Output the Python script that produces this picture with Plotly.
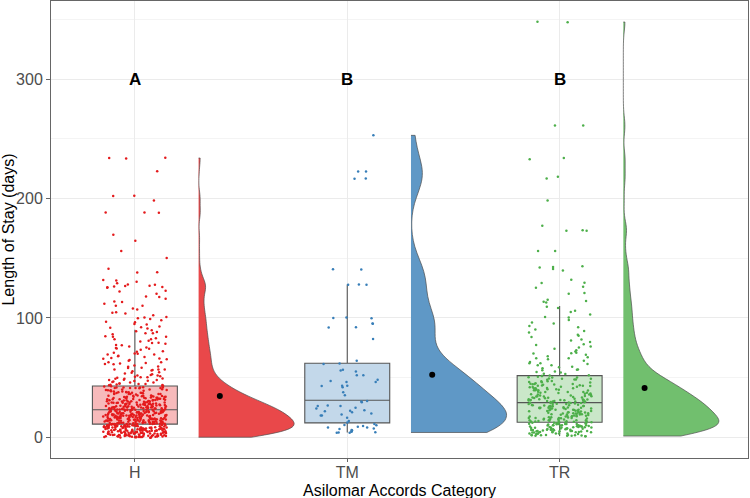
import numpy as np
import plotly.graph_objects as go

# ---------------- data (read / estimated from the reference) ----------------
categories = ["H", "TM", "TR"]
positions = [1, 2, 3]
letters = ["A", "B", "B"]
letter_level = 300

# H: number of stays per whole day, starting at day 0
H_day_counts = [12, 14, 14, 15, 15, 15, 15, 15, 15, 15, 15,          # 0-10
                14, 14, 14, 14, 14, 13, 13, 13, 13, 13, 12, 13,      # 11-22
                12, 12, 11, 11, 10, 10, 9, 9, 8, 8, 8, 7, 7, 6, 6, 6, 5, 5, 5, 5,  # 23-42
                4, 4, 4, 3, 3, 3, 3, 3,                              # 43-50
                2, 3, 2, 2, 1, 2, 3, 2, 2, 1, 2, 2, 2, 1, 2, 3, 1, 2, 2, 2,  # 51-70
                1, 2, 1, 2, 2, 1, 2, 1, 2, 1, 1, 2, 1, 2, 1, 1, 2, 1, 1, 1, 1]  # 71-91
H_long_stays = [234, 234, 234, 223, 202, 202, 198, 188, 188, 188, 170, 165, 156, 150,
                141, 138, 138, 132, 131, 130, 129, 128, 128, 127, 127, 126, 126, 126,
                125, 123, 122, 120, 118, 118, 116, 114, 113, 112, 110, 110, 108, 107,
                105, 104, 104, 102, 101, 100, 100, 99, 98, 97, 96, 95, 94, 93, 92, 92]

# TM: individual stays
TM_stays = [4, 4, 4, 4, 5, 5, 6, 6, 7, 7, 8, 8, 9, 9, 10, 10, 11, 12,
            14, 16, 18, 18, 19, 20, 21, 22, 22, 23, 24, 25, 26, 26, 27, 29, 30, 30,
            35, 38, 42, 43, 43, 43, 46, 46, 47, 48, 52, 52, 55, 56, 57, 61, 62,
            64, 82, 92, 92, 95, 95, 100, 100, 100, 128, 128, 128, 141, 141,
            217, 217, 223, 223, 253]

# TR: number of stays per whole day, starting at day 0
TR_day_counts = [0, 6, 7, 7, 8, 8, 8, 8, 8, 8, 8, 7, 7,                 # 0-12
                 7, 6, 6, 6, 6, 6, 6, 6, 6, 6, 6, 6, 6, 6, 5, 5,        # 13-28
                 6, 6, 6, 5, 5, 5, 4, 4, 4, 4, 4, 4, 4, 4, 4, 4, 4,     # 29-45
                 3, 3, 3, 3, 3, 3]                                      # 46-51
TR_long_stays = [52, 52, 53, 53, 54, 55, 55, 56, 57, 57, 58, 59, 59, 60, 60,
                 61, 62, 62, 63, 64, 65, 66, 66, 67, 68, 69, 70, 70, 71, 72, 73, 74, 75,
                 76, 77, 78, 80, 81, 82, 84, 85, 86, 88, 89, 90, 92, 93, 95, 96, 98,
                 100, 101, 103, 105, 106, 108, 109,
                 113, 114, 114, 115, 120, 121, 125, 126, 129, 129, 132, 140, 141, 142,
                 143, 143, 156, 156, 173, 173, 173, 177, 198, 217, 218, 233, 234,
                 261, 261, 348, 348]

# box-plot statistics
box_lower = [0, 4, 1]
box_q1 = [11, 12, 12.5]
box_median = [23, 31, 29]
box_q3 = [43, 62, 51.6]
box_upper = [90, 128, 110]
group_means = [34.5, 52.3, 41.2]

point_colors = ["#E41A1C", "#377EB8", "#4DAF4A"]
violin_colors = ["#E9484A", "#5F98C6", "#71BF6E"]
box_colors = ["#F7BABB", "#C3D8EA", "#CAE7C9"]


def expand(day_counts, extra):
    vals = []
    for d, c in enumerate(day_counts):
        vals.extend([d] * c)
    vals.extend(extra)
    return np.array(sorted(vals), dtype=float)


groups = [expand(H_day_counts, H_long_stays),
          np.array(sorted(TM_stays), dtype=float),
          expand(TR_day_counts, TR_long_stays)]


def nrd0(x):
    sd = np.std(x, ddof=1)
    iqr = np.subtract(*np.percentile(x, [75, 25]))
    return 0.9 * min(sd, iqr / 1.34) * len(x) ** (-0.2)


def scatter_offsets(n, salt):
    # deterministic hash-based offsets in [-0.5, 0.5) used only for jittering
    k = np.arange(n, dtype=float) + salt
    h = np.sin(k * 12.9898 + salt * 78.233) * 43758.5453
    return (h - np.floor(h)) - 0.5


fig = go.Figure()

VIOLIN_OFFSET = 0.3
MEAN_OFFSET = 0.4
JITTER = 0.15

for i, (cat, pos, vals) in enumerate(zip(categories, positions, groups)):
    # half violin
    fig.add_trace(go.Violin(
        y=vals, x0=pos + VIOLIN_OFFSET, side="positive", width=0.9,
        scalemode="width", spanmode="hard", bandwidth=nrd0(vals),
        fillcolor=violin_colors[i], opacity=1,
        line=dict(color="#4D4D4D", width=0.7),
        points=False, box_visible=False, meanline_visible=False,
        hoverinfo="skip", showlegend=False, name=cat))
    # box plot from statistics
    fig.add_trace(go.Box(
        x=[pos], q1=[box_q1[i]], median=[box_median[i]], q3=[box_q3[i]],
        lowerfence=[box_lower[i]], upperfence=[box_upper[i]],
        width=0.4, whiskerwidth=0, fillcolor=box_colors[i],
        line=dict(color="#555555", width=1.1), boxpoints=False,
        hoverinfo="skip", showlegend=False, name=cat))
    # jittered raw points
    n = len(vals)
    xj = pos + scatter_offsets(n, 1.0 + i) * 2 * JITTER
    yj = vals + scatter_offsets(n, 7.0 + i) * 0.8
    fig.add_trace(go.Scatter(
        x=xj, y=yj, mode="markers",
        marker=dict(color=point_colors[i], size=2.5, line=dict(width=0)),
        hoverinfo="skip", showlegend=False))
    # group mean
    fig.add_trace(go.Scatter(
        x=[pos + MEAN_OFFSET], y=[group_means[i]], mode="markers",
        marker=dict(color="black", size=6),
        hoverinfo="skip", showlegend=False))

for pos, letter in zip(positions, letters):
    fig.add_annotation(x=pos, y=letter_level, text="<b>%s</b>" % letter,
                       showarrow=False, font=dict(size=17, color="black",
                                                  family="Liberation Sans, Arial"))

# x-axis title as a paper-anchored annotation for exact placement
fig.add_annotation(text="Asilomar Accords Category", xref="paper", yref="paper",
                   x=0.5, y=-0.071, xanchor="center", yanchor="middle",
                   showarrow=False, font=dict(size=16, color="black"))

fig.update_layout(
    width=750, height=498,
    margin=dict(l=51, r=2, t=1, b=40),
    plot_bgcolor="white", paper_bgcolor="white",
    font=dict(family="Liberation Sans, Arial", size=16, color="black"),
    boxmode="overlay", violinmode="overlay",
)
fig.update_xaxes(
    automargin=False,
    range=[0.605, 3.887], tickmode="array", tickvals=positions, ticktext=categories,
    showgrid=True, gridcolor="#EBEBEB", gridwidth=1, zeroline=False,
    showline=True, mirror=True, linecolor="#666666", linewidth=1,
    ticks="outside", ticklen=3, tickcolor="#666666", ticklabelstandoff=-3,
    tickfont=dict(size=16, color="#4D4D4D"),
)
fig.update_yaxes(
    automargin=False,
    range=[-17.4, 365.6], tickmode="array", tickvals=[0, 100, 200, 300],
    showgrid=True, gridcolor="#EBEBEB", gridwidth=1, zeroline=False,
    minor=dict(tickvals=[50, 150, 250, 350], showgrid=True, gridcolor="#F4F4F4", gridwidth=0.6, ticks=""),
    showline=True, mirror=True, linecolor="#666666", linewidth=1,
    ticks="outside", ticklen=4, tickcolor="#666666",
    tickfont=dict(size=16, color="#4D4D4D"),
    title=dict(text="Length of Stay (days)", font=dict(size=16, color="black"), standoff=4),
)

fig.write_html("out.html", config={"displayModeBar": False},
               post_script="document.body.style.margin='0px';document.body.style.overflow='hidden';")
